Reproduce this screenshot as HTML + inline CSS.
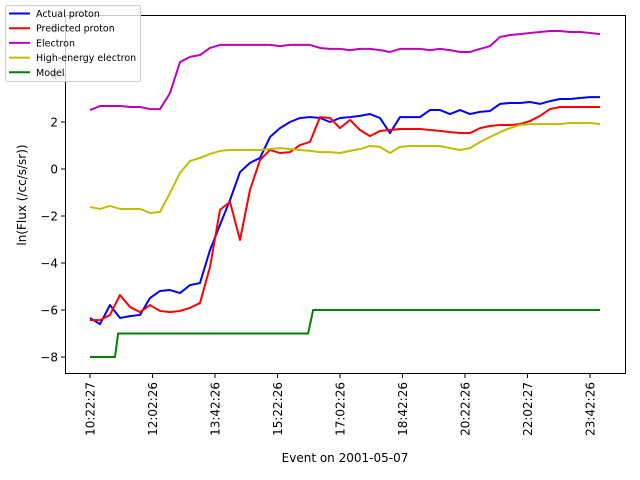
<!DOCTYPE html>
<html><head><meta charset="utf-8"><style>
body{margin:0;background:#fff;}
svg{display:block;font-family:"DejaVu Sans","Liberation Sans",sans-serif;}
</style></head><body>
<svg id="chart" width="640" height="480" viewBox="0 0 640 480" xmlns="http://www.w3.org/2000/svg"></svg>
<script>
const times = Array.from({length:52},(_, i)=>i*16);
const tickLabels = ["10:22:27","12:02:26","13:42:26","15:22:26","17:02:26","18:42:26","20:22:26","22:02:27","23:42:26"];
const tickTimes = [0,100,200,300,400,500,600,700,800];
const yTicks = [-8,-6,-4,-2,0,2,4,6];
const electron = [2.51,2.68,2.68,2.68,2.64,2.64,2.55,2.55,3.23,4.55,4.77,4.85,5.15,5.28,5.28,5.28,5.28,5.28,5.28,5.23,5.28,5.28,5.28,5.15,5.11,5.11,5.06,5.11,5.11,5.06,4.98,5.11,5.11,5.11,5.06,5.11,5.06,4.98,4.98,5.11,5.23,5.62,5.70,5.74,5.79,5.83,5.87,5.87,5.83,5.83,5.79,5.74];
const actualProton = [-6.34,-6.60,-5.79,-6.34,-6.26,-6.21,-5.49,-5.19,-5.15,-5.28,-4.94,-4.85,-3.45,-2.38,-1.32,-0.13,0.26,0.47,1.36,1.74,2.00,2.17,2.21,2.17,2.00,2.17,2.21,2.26,2.34,2.17,1.53,2.21,2.21,2.21,2.51,2.51,2.34,2.51,2.34,2.43,2.47,2.77,2.81,2.81,2.85,2.77,2.89,2.98,2.98,3.02,3.06,3.06];
const predictedProton = [-6.43,-6.43,-6.21,-5.36,-5.87,-6.09,-5.79,-6.04,-6.09,-6.04,-5.91,-5.70,-4.17,-1.74,-1.40,-3.02,-0.89,0.38,0.81,0.68,0.72,1.02,1.15,2.21,2.17,1.74,2.09,1.66,1.40,1.62,1.66,1.70,1.70,1.70,1.66,1.62,1.57,1.53,1.53,1.74,1.83,1.87,1.87,1.91,2.04,2.26,2.55,2.64,2.64,2.64,2.64,2.64];
const highEnergy = [-1.62,-1.70,-1.57,-1.70,-1.70,-1.70,-1.87,-1.83,-1.02,-0.17,0.34,0.47,0.64,0.77,0.81,0.81,0.81,0.81,0.85,0.89,0.85,0.81,0.77,0.72,0.72,0.68,0.77,0.85,0.98,0.94,0.68,0.94,0.98,0.98,0.98,0.98,0.89,0.81,0.89,1.15,1.36,1.57,1.74,1.87,1.91,1.91,1.91,1.91,1.96,1.96,1.96,1.91];
const modelTimes = [0,40,45,349,357,816];
const modelValues = [-8,-8,-7,-7,-6,-6];

const NS="http://www.w3.org/2000/svg";
const svg=document.getElementById('chart');
const X=t=>90+0.625*t;
const Y=v=>169-23.5*v;
function mk(tag,attrs,parent){const e=document.createElementNS(NS,tag);for(const k in attrs)e.setAttribute(k,attrs[k]);(parent||svg).appendChild(e);return e;}

const axes=mk('rect',{x:65.5,y:15.5,width:560,height:358,fill:'none',stroke:'#000','stroke-width':1});



yTicks.forEach(v=>{
  const l=mk('line',{x1:61,x2:65,y1:Y(v),y2:Y(v),stroke:'#000'});
  
  
  const t=mk('text',{x:58,y:Y(v)+4.5,'text-anchor':'end','font-size':12});
  t.textContent=v<0?'\u2212'+Math.abs(v):String(v);
  
  
});
tickTimes.forEach((tt,i)=>{
  const x=X(tt);
  const l=mk('line',{x1:x,x2:x,y1:374,y2:378,stroke:'#000'});
  
  
  const t=mk('text',{x:0,y:0,'text-anchor':'end','font-size':12,transform:`translate(${x+4.5},382) rotate(-90)`});
  t.textContent=tickLabels[i];
  
  
});
const xl=mk('text',{x:345,y:462,'text-anchor':'middle','font-size':12});
xl.textContent='Event on 2001-05-07';


const yl=mk('text',{x:0,y:0,'text-anchor':'middle','font-size':12,transform:'translate(26,195) rotate(-90)'});
yl.textContent='ln(Flux (/cc/s/sr))';



function series(ts,vals,color,name){
  const p=mk('polyline',{points:ts.map((t,i)=>X(t)+','+Y(vals[i])).join(' '),fill:'none',stroke:color,'stroke-width':2,'stroke-linejoin':'round'});
  
  
}
series(times,actualProton,'#0000ff','actual-proton-line');
series(times,predictedProton,'#ff0000','predicted-proton-line');
series(times,electron,'#bf00bf','electron-line');
series(times,highEnergy,'#bfbf00','high-energy-electron-line');
series(modelTimes,modelValues,'#008000','model-line');

const lg=mk('g',{});


mk('rect',{x:5.5,y:5.5,width:135,height:76,rx:2,fill:'#fff','fill-opacity':0.8,stroke:'#ccc'},lg);
const names=['Actual proton','Predicted proton','Electron','High-energy electron','Model'];
const cols=['#0000ff','#ff0000','#bf00bf','#bfbf00','#008000'];
names.forEach((n,i)=>{
  const y=13.5+i*14.7;
  const g=mk('g',{},lg);
  
  
  mk('line',{x1:9,x2:30,y1:y,y2:y,stroke:cols[i],'stroke-width':2},g);
  const t=mk('text',{x:36,y:y+3.5,'font-size':9.5},g);
  t.textContent=n;
});
</script>
</body></html>
